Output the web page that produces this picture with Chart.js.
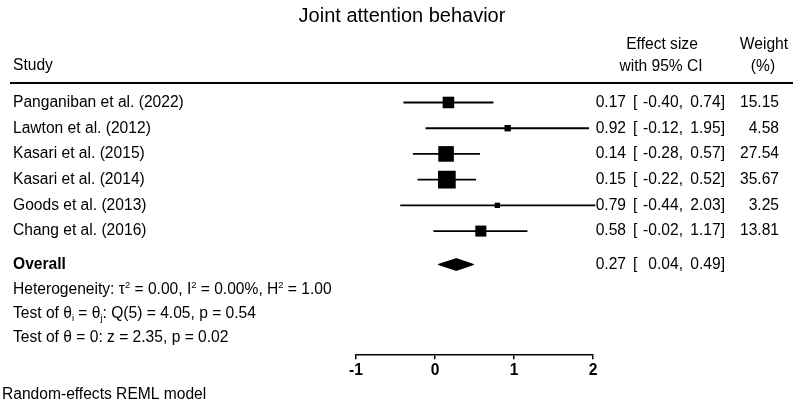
<!DOCTYPE html>
<html>
<head>
<meta charset="utf-8">
<script src="https://cdn.jsdelivr.net/npm/chart.js@4/dist/chart.umd.min.js"></script>
<style>
  body { margin: 0; background: #fff; }
  #wrap { width: 797px; height: 413px; }
</style>
</head>
<body>
<div id="wrap"><canvas id="forest" width="797" height="413"></canvas></div>
<script>
// data
const studies = ['Panganiban et al. (2022)', 'Lawton et al. (2012)', 'Kasari et al. (2015)',
                 'Kasari et al. (2014)', 'Goods et al. (2013)', 'Chang et al. (2016)'];
const effects = [0.17, 0.92, 0.14, 0.15, 0.79, 0.58];
const ciLow = [-0.40, -0.12, -0.28, -0.22, -0.44, -0.02];
const ciHigh = [0.74, 1.95, 0.57, 0.52, 2.03, 1.17];
const weights = [15.15, 4.58, 27.54, 35.67, 3.25, 13.81];
const overall = [0.27, 0.04, 0.49];        // estimate, low, high
const heterogeneity = [0.00, 0.00, 1.00];  // tau2, I2 (%), H2
const qTest = [5, 4.05, 0.54];             // df, Q, p
const zTest = [2.35, 0.02];                // z, p
const xTicks = [-1, 0, 1, 2];

const FONT = '"Liberation Sans", Arial, sans-serif';
const overallRow = 7.3;
const rows = studies.map((s, i) => i + 1);

const ciSets = studies.map((s, i) => ({
    type: 'scatter',
    showLine: true,
    data: [{x: ciLow[i], y: rows[i]}, {x: ciHigh[i], y: rows[i]}],
    borderColor: '#000',
    borderWidth: 1.9,
    pointRadius: 0,
    clip: false
}));

const squareSet = {
    type: 'scatter',
    data: effects.map((e, i) => ({x: e, y: rows[i]})),
    pointStyle: 'rect',
    pointRadius: weights.map(w => Math.sqrt(w) * 2.1),
    backgroundColor: '#000',
    borderColor: '#000',
    borderWidth: 0,
    clip: false
};

const dh = 0.23;
const diamondSet = {
    type: 'scatter',
    showLine: true,
    fill: 'shape',
    data: [
        {x: overall[1], y: overallRow},
        {x: overall[0], y: overallRow - dh},
        {x: overall[2], y: overallRow},
        {x: overall[0], y: overallRow + dh},
        {x: overall[1], y: overallRow}
    ],
    borderColor: '#000',
    backgroundColor: '#000',
    borderWidth: 1,
    pointRadius: 0,
    tension: 0,
    clip: false
};

function richText(ctx, parts, x, y, size) {
    let cx = x;
    parts.forEach(p => {
        let t = p, dy = 0, s = size;
        if (typeof p !== 'string') {
            t = p.t;
            s = size * 0.6;
            dy = p.sup ? -size * 0.32 : size * 0.28;
        }
        ctx.font = s + 'px ' + FONT;
        ctx.fillText(t, cx, y + dy);
        cx += ctx.measureText(t).width;
    });
}

const textPlugin = {
    id: 'forestText',
    afterDraw(chart) {
        const ctx = chart.ctx;
        const y = chart.scales.y;
        const fs = 15.6;
        ctx.save();
        ctx.fillStyle = '#000';
        ctx.textBaseline = 'middle';

        ctx.font = '20px ' + FONT;
        ctx.textAlign = 'center';
        ctx.fillText('Joint attention behavior', 402, 16);

        ctx.font = fs + 'px ' + FONT;
        ctx.fillText('Effect size', 662, 45);
        ctx.fillText('with 95% CI', 661, 67);
        ctx.fillText('Weight', 764, 45);
        ctx.fillText('(%)', 763, 67);
        ctx.textAlign = 'left';
        ctx.fillText('Study', 13, 66);

        ctx.strokeStyle = '#000';
        ctx.lineWidth = 2;
        ctx.beginPath();
        ctx.moveTo(10, 83);
        ctx.lineTo(793, 83);
        ctx.stroke();

        const f2 = v => v.toFixed(2);
        const rowText = (label, e, lo, hi, w, py, bold) => {
            ctx.font = (bold ? 'bold ' : '') + fs + 'px ' + FONT;
            ctx.textAlign = 'left';
            ctx.fillText(label, 13, py);
            ctx.font = fs + 'px ' + FONT;
            ctx.textAlign = 'right';
            ctx.fillText(f2(e), 626, py);
            ctx.textAlign = 'left';
            ctx.fillText('[', 633, py);
            ctx.textAlign = 'right';
            ctx.fillText(f2(lo) + ',', 683, py);
            ctx.fillText(f2(hi) + ']', 725, py);
            if (w !== null) ctx.fillText(f2(w), 779, py);
        };
        studies.forEach((s, i) => {
            rowText(s, effects[i], ciLow[i], ciHigh[i], weights[i], y.getPixelForValue(rows[i]), false);
        });
        rowText('Overall', overall[0], overall[1], overall[2], null, y.getPixelForValue(overallRow), true);

        ctx.textAlign = 'left';
        richText(ctx, ['Heterogeneity: \u03c4', {t: '2', sup: true}, ' = ' + f2(heterogeneity[0]) + ', I',
            {t: '2', sup: true}, ' = ' + f2(heterogeneity[1]) + '%, H', {t: '2', sup: true},
            ' = ' + f2(heterogeneity[2])], 13, 290, fs);
        richText(ctx, ['Test of \u03b8', {t: 'i'}, ' = \u03b8', {t: 'j'},
            ': Q(' + qTest[0] + ') = ' + f2(qTest[1]) + ', p = ' + f2(qTest[2])], 13, 314, fs);
        richText(ctx, ['Test of \u03b8 = 0: z = ' + f2(zTest[0]) + ', p = ' + f2(zTest[1])], 13, 338, fs);

        ctx.font = fs + 'px ' + FONT;
        ctx.fillText('Random-effects REML model', 2, 395);
        ctx.restore();
    }
};

new Chart(document.getElementById('forest'), {
    type: 'scatter',
    data: { datasets: [...ciSets, squareSet, diamondSet] },
    options: {
        responsive: false,
        animation: false,
        devicePixelRatio: 1,
        layout: { padding: { left: 356, right: 204, top: 90, bottom: 31 } },
        plugins: { legend: { display: false }, tooltip: { enabled: false } },
        scales: {
            x: {
                type: 'linear',
                min: xTicks[0],
                max: xTicks[xTicks.length - 1],
                afterBuildTicks: axis => { axis.ticks = xTicks.map(v => ({value: v})); },
                ticks: { color: '#000', font: { family: FONT, size: 15.6, weight: 'bold' }, padding: 2 },
                grid: { drawOnChartArea: false, drawTicks: true, tickLength: 5, color: '#000', lineWidth: 1.5 },
                border: { display: true, color: '#000', width: 1.5 }
            },
            y: {
                type: 'linear',
                display: false,
                reverse: true,
                min: 0.515,
                max: 10.79
            }
        }
    },
    plugins: [textPlugin]
});
</script>
</body>
</html>
